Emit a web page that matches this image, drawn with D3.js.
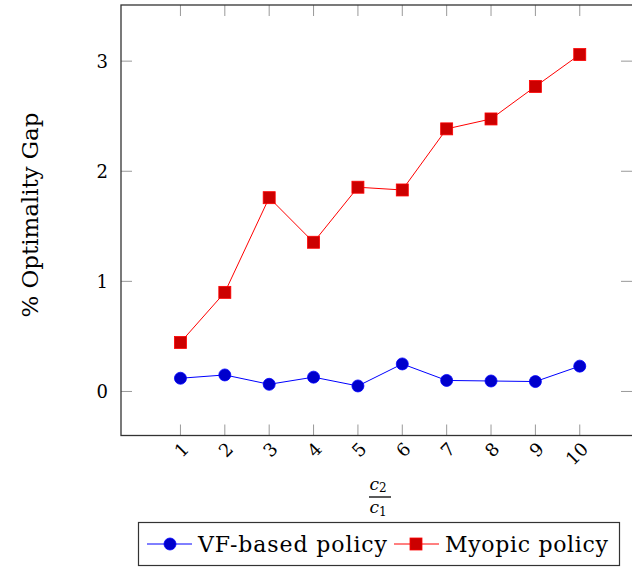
<!DOCTYPE html>
<html>
<head>
<meta charset="utf-8">
<script src="https://cdn.jsdelivr.net/npm/d3@7"></script>
<style>
  body { margin: 0; background: #fff; }
  text { font-family: "DejaVu Serif", "Liberation Serif", serif; }
</style>
</head>
<body>
<div id="chart"></div>
<script>
// data
const ratios = [1, 2, 3, 4, 5, 6, 7, 8, 9, 10];
const vfGap = [0.12, 0.15, 0.065, 0.13, 0.05, 0.25, 0.10, 0.095, 0.09, 0.23];
const myopicGap = [0.445, 0.90, 1.76, 1.355, 1.855, 1.83, 2.385, 2.475, 2.77, 3.06];
const yTicks = [0, 1, 2, 3];

const width = 632, height = 568;
const plotL = 121, plotR = 633, plotT = 5, plotB = 435.5;

const x = d3.scaleLinear().domain([-0.34, 11.2]).range([plotL, plotR]);
const y = d3.scaleLinear().domain([-0.4, 3.51]).range([plotB, plotT]);

const svg = d3.select('#chart').append('svg')
  .attr('width', width)
  .attr('height', height);

// ticks on all four sides, grey, pointing inward
const tickLen = 11;
const ticks = svg.append('g').attr('stroke', '#999').attr('stroke-width', 1);
ratios.forEach(r => {
  ticks.append('line').attr('x1', x(r)).attr('x2', x(r)).attr('y1', plotB).attr('y2', plotB - tickLen);
  ticks.append('line').attr('x1', x(r)).attr('x2', x(r)).attr('y1', plotT).attr('y2', plotT + tickLen);
});
yTicks.forEach(v => {
  ticks.append('line').attr('x1', plotL).attr('x2', plotL + tickLen).attr('y1', y(v)).attr('y2', y(v));
  ticks.append('line').attr('x1', plotR - 1).attr('x2', plotR - 1 - tickLen).attr('y1', y(v)).attr('y2', y(v));
});

svg.append('rect')
  .attr('x', plotL).attr('y', plotT)
  .attr('width', plotR - plotL).attr('height', plotB - plotT)
  .attr('fill', 'none').attr('stroke', '#333').attr('stroke-width', 1.3);

// tick labels
svg.append('g').selectAll('text').data(yTicks).join('text')
  .attr('x', plotL - 13).attr('y', d => y(d))
  .attr('dy', '0.36em')
  .attr('text-anchor', 'end')
  .attr('font-size', 18)
  .text(d => d);

svg.append('g').selectAll('text').data(ratios).join('text')
  .attr('transform', d => `translate(${x(d) + 5},${plotB + 10}) rotate(-45)`)
  .attr('dy', '0.36em')
  .attr('text-anchor', 'end')
  .attr('font-size', 18)
  .text(d => d);

// axis labels
svg.append('text')
  .attr('transform', 'translate(38,215) rotate(-90)')
  .attr('text-anchor', 'middle')
  .attr('font-size', 23)
  .attr('textLength', 205)
  .text('% Optimality Gap');

const fx = 380;
svg.append('text').attr('x', fx - 2).attr('y', 490).attr('text-anchor', 'middle')
  .attr('font-size', 17).attr('font-style', 'italic')
  .html('c<tspan font-size="12" dy="2" font-style="normal">2</tspan>');
svg.append('line').attr('x1', fx - 11).attr('x2', fx + 11).attr('y1', 497).attr('y2', 497)
  .attr('stroke', '#000').attr('stroke-width', 1.3);
svg.append('text').attr('x', fx - 2).attr('y', 513).attr('text-anchor', 'middle')
  .attr('font-size', 17).attr('font-style', 'italic')
  .html('c<tspan font-size="12" dy="3" font-style="normal">1</tspan>');

// series
const line = d3.line().x(d => x(d[0])).y(d => y(d[1]));
const vfPts = ratios.map((r, i) => [r, vfGap[i]]);
const myPts = ratios.map((r, i) => [r, myopicGap[i]]);

svg.append('path').attr('d', line(myPts))
  .attr('fill', 'none').attr('stroke', '#ff0000').attr('stroke-width', 1);
svg.append('g').selectAll('rect').data(myPts).join('rect')
  .attr('x', d => x(d[0]) - 6).attr('y', d => y(d[1]) - 6)
  .attr('width', 12).attr('height', 12)
  .attr('fill', '#cc0000').attr('stroke', '#ff0000').attr('stroke-width', 0.8);

svg.append('path').attr('d', line(vfPts))
  .attr('fill', 'none').attr('stroke', '#0000ff').attr('stroke-width', 1);
svg.append('g').selectAll('circle').data(vfPts).join('circle')
  .attr('cx', d => x(d[0])).attr('cy', d => y(d[1]))
  .attr('r', 6)
  .attr('fill', '#0000cc').attr('stroke', '#0000ff').attr('stroke-width', 0.8);

// legend
const lg = svg.append('g');
lg.append('rect').attr('x', 138.5).attr('y', 522.5).attr('width', 481).attr('height', 43)
  .attr('fill', '#fff').attr('stroke', '#333').attr('stroke-width', 1.2);
lg.append('line').attr('x1', 147).attr('x2', 192).attr('y1', 544).attr('y2', 544)
  .attr('stroke', '#0000ff');
lg.append('circle').attr('cx', 170).attr('cy', 544).attr('r', 6)
  .attr('fill', '#0000cc').attr('stroke', '#0000ff').attr('stroke-width', 0.8);
lg.append('text').attr('x', 198).attr('y', 544).attr('dy', '0.36em')
  .attr('font-size', 22).attr('textLength', 189).text('VF-based policy');
lg.append('line').attr('x1', 394).attr('x2', 439).attr('y1', 544).attr('y2', 544)
  .attr('stroke', '#ff0000');
lg.append('rect').attr('x', 410).attr('y', 538).attr('width', 12).attr('height', 12)
  .attr('fill', '#cc0000').attr('stroke', '#ff0000').attr('stroke-width', 0.8);
lg.append('text').attr('x', 445).attr('y', 544).attr('dy', '0.36em')
  .attr('font-size', 22).attr('textLength', 163).text('Myopic policy');
</script>
</body>
</html>
